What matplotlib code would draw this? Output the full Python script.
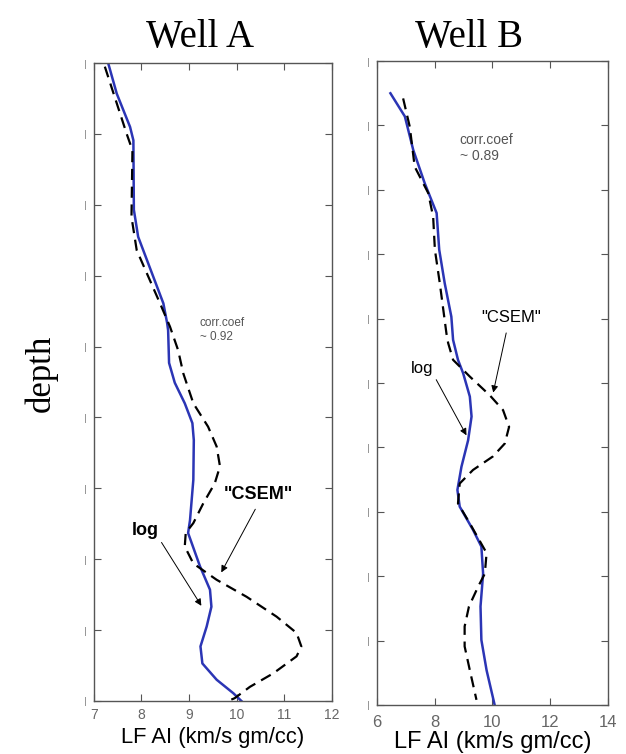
import numpy as np
import matplotlib
matplotlib.use('Agg')
import matplotlib.pyplot as plt

# Well A : depth (0-9) vs LF AI
depth_a_log = [0.0, 0.43, 0.9, 1.09, 2.07, 2.45, 3.39, 3.67, 3.77, 4.23, 4.51, 4.80, 5.08, 5.32, 5.88,
               6.45, 6.63, 7.10, 7.43, 7.67, 7.95, 8.23, 8.47, 8.70, 8.89, 9.0]
ai_a_log = [7.30, 7.48, 7.76, 7.83, 7.84, 7.93, 8.46, 8.54, 8.56, 8.58, 8.70, 8.91, 9.07, 9.10, 9.09,
            9.02, 8.98, 9.23, 9.44, 9.47, 9.37, 9.24, 9.28, 9.58, 9.93, 10.10]
depth_a_csem = [0.05, 1.0, 1.23, 2.17, 2.64, 3.39, 3.72, 4.05, 4.38, 4.80, 5.13, 5.41, 5.69, 5.93, 6.21,
                6.49, 6.63, 6.82, 7.06, 7.29, 7.53, 7.81, 8.04, 8.23, 8.37, 8.61, 8.80, 8.96, 9.0]
ai_a_csem = [7.23, 7.69, 7.81, 7.79, 7.90, 8.39, 8.60, 8.77, 8.88, 9.09, 9.40, 9.58, 9.65, 9.54, 9.30,
             9.09, 8.93, 8.91, 9.09, 9.58, 10.21, 10.84, 11.26, 11.36, 11.26, 10.77, 10.28, 9.96, 9.82]

# Well B : depth (0-10) vs LF AI
depth_b_log = [0.5, 0.86, 1.38, 1.9, 2.36, 2.93, 3.45, 3.97, 4.33, 4.64, 4.85, 5.21, 5.52, 5.89, 6.30,
               6.66, 6.92, 7.28, 7.54, 7.96, 8.47, 8.99, 9.46, 10.0]
ai_b_log = [6.47, 6.97, 7.26, 7.66, 8.07, 8.16, 8.35, 8.58, 8.64, 8.81, 8.99, 9.22, 9.28, 9.16, 8.93,
            8.79, 8.87, 9.33, 9.62, 9.68, 9.59, 9.62, 9.80, 10.08]
depth_b_csem = [0.58, 1.02, 1.64, 2.05, 2.42, 2.93, 3.45, 4.23, 4.38, 4.64, 4.90, 5.19, 5.42, 5.68, 5.94,
                6.14, 6.35, 6.56, 6.87, 7.18, 7.64, 7.96, 8.16, 8.47, 8.78, 9.09, 9.46, 9.92]
ai_b_csem = [6.91, 7.14, 7.31, 7.78, 7.95, 8.01, 8.18, 8.41, 8.47, 8.64, 9.22, 9.91, 10.37, 10.58, 10.43,
             10.02, 9.33, 8.87, 8.81, 9.22, 9.80, 9.74, 9.51, 9.19, 9.04, 9.04, 9.22, 9.45]

xticks_a = [7, 8, 9, 10, 11, 12]
xticks_b = [6, 8, 10, 12, 14]

blue = '#2b35b5'
grey = '#555555'

fig = plt.figure(figsize=(6.26, 7.54), dpi=100)
axA = fig.add_axes([0.150, 0.0703, 0.380, 0.846])
axB = fig.add_axes([0.602, 0.065, 0.369, 0.854])

def style(ax, xt, ymax, fs, xpad):
    ax.set_xlim(xt[0], xt[-1])
    ax.set_ylim(ymax, 0)
    ax.set_xticks(xt)
    ax.set_xticklabels([str(v) for v in xt], fontsize=fs, color='#666666', family='Liberation Sans')
    ax.set_yticks(np.arange(0, ymax + 1))
    ax.set_yticklabels(['|'] * (ymax + 1), fontsize=6, color='#777777')
    ax.tick_params(direction='in', top=True, right=True, length=5, color=grey)
    ax.tick_params(axis='x', pad=xpad)
    ax.tick_params(axis='y', pad=5)
    for s in ax.spines.values():
        s.set_color(grey)
        s.set_linewidth(1.0)

# Well A
axA.plot(ai_a_log, depth_a_log, color=blue, lw=1.8)
axA.plot(ai_a_csem, depth_a_csem, color='black', lw=1.6, ls=(0, (5, 3)))
style(axA, xticks_a, 9, 10, 5)
axA.set_xlabel('LF AI (km/s gm/cc)', family='Liberation Sans', fontsize=15.8, labelpad=4)
axA.text(9.23, 3.58, 'corr.coef\n~ 0.92', fontsize=8.5, color='#555555', va='top', ha='left',
         family='Liberation Sans', linespacing=1.2)
axA.text(10.45, 6.08, '"CSEM"', fontsize=13, fontweight='bold', ha='center', va='center', family='Liberation Sans')
axA.annotate('', xy=(9.65, 7.22), xytext=(10.42, 6.26),
             arrowprops=dict(arrowstyle='-|>', color='black', lw=0.7, mutation_scale=10))
axA.text(8.07, 6.60, 'log', fontsize=13, fontweight='bold', ha='center', va='center', family='Liberation Sans')
axA.annotate('', xy=(9.29, 7.69), xytext=(8.39, 6.73),
             arrowprops=dict(arrowstyle='-|>', color='black', lw=0.7, mutation_scale=10))

# Well B
axB.plot(ai_b_log, depth_b_log, color=blue, lw=1.8)
axB.plot(ai_b_csem, depth_b_csem, color='black', lw=1.6, ls=(0, (5, 3)))
style(axB, xticks_b, 10, 12, 7)
axB.set_xlabel('LF AI (km/s gm/cc)', family='Liberation Sans', fontsize=17, labelpad=1)
axB.text(8.87, 1.12, 'corr.coef\n~ 0.89', fontsize=10, color='#555555', va='top', ha='left',
         family='Liberation Sans', linespacing=1.2)
axB.text(10.64, 3.99, '"CSEM"', fontsize=12, ha='center', va='center', family='Liberation Sans')
axB.annotate('', xy=(10.01, 5.19), xytext=(10.50, 4.18),
             arrowprops=dict(arrowstyle='-|>', color='black', lw=0.7, mutation_scale=10))
axB.text(7.56, 4.77, 'log', fontsize=12, ha='center', va='center', family='Liberation Sans')
axB.annotate('', xy=(9.15, 5.85), xytext=(8.01, 4.91),
             arrowprops=dict(arrowstyle='-|>', color='black', lw=0.7, mutation_scale=10))

fig.text(0.319, 0.938, 'Well A', family='Liberation Serif', fontsize=28, ha='center', va='baseline')
fig.text(0.749, 0.938, 'Well B', family='Liberation Serif', fontsize=28, ha='center', va='baseline')
fig.text(0.065, 0.505, 'depth', rotation=90, family='Liberation Serif', fontsize=25, ha='center', va='center')

fig.savefig('out.png', dpi=100)
